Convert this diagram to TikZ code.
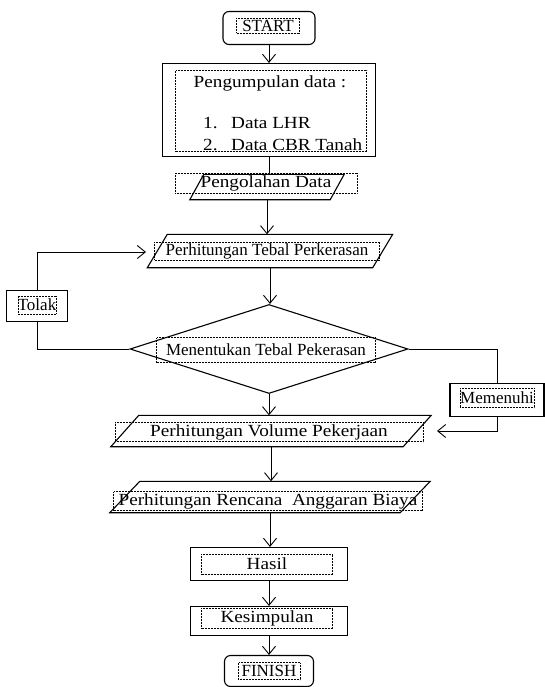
\documentclass[tikz,border=0pt]{standalone}
\usepackage{fontspec}
\setmainfont{Liberation Serif}
\newfontfamily\widefont[FakeStretch=1.13]{Liberation Serif}
\usepackage{tikz}
\usetikzlibrary{arrows.meta}
\usetikzlibrary{shapes.geometric}
\tikzset{>={Straight Barb[length=8pt,width=13pt]}}
\tikzstyle{box} = [draw, line width=1.1pt, inner sep=1pt]
\tikzstyle{term} = [box, rounded corners=6pt]
\tikzstyle{io} = [inner sep=1pt]
\tikzstyle{choice} = [box, diamond]
\tikzstyle{lbl} = [inner sep=0pt, font=\fontsize{17}{20}\selectfont]
\tikzstyle{wlbl} = [inner sep=0pt, font=\fontsize{17}{20}\widefont]
\tikzstyle{txt} = [lbl, draw, densely dotted, line width=0.5pt]
\tikzstyle{wtxt} = [txt, font=\fontsize{17}{20}\widefont]
\tikzstyle{line} = [line width=0.9pt]

\begin{document}
\begin{tikzpicture}[x=1pt,y=-1pt]
\useasboundingbox (0,0) rectangle (544,687);
%outer shapes
\node[term, minimum width=92, minimum height=33] (start) at (269,28) {};
\node[box, minimum width=213, minimum height=93] (data) at (269,110) {};
\node[io, minimum width=154, minimum height=25] (olah) at (267,187) {};
\node[io, minimum width=245, minimum height=33] (tebal) at (270,251) {};
\node[choice, minimum width=278, minimum height=89] (tentu) at (269,349) {};
\node[box, minimum width=61, minimum height=31] (tolak) at (37,306) {};
\node[box, minimum width=94, minimum height=33] (penuh) at (497,400) {};
\node[io, minimum width=320, minimum height=31] (volume) at (271,431) {};
\node[io, minimum width=320, minimum height=31] (rab) at (270,497) {};
\node[box, minimum width=157, minimum height=33] (hasil) at (269,564) {};
\node[box, minimum width=157, minimum height=29] (simpul) at (269,621) {};
\node[term, minimum width=89, minimum height=31] (finish) at (269,671) {};
%parallelograms
\foreach \n/\s in {olah/14, tebal/20, volume/28, rab/30}
{\draw[box] ([xshift=\s]\n.north west) -- (\n.north east)
    -- ([xshift=-\s]\n.south east) -- (\n.south west) -- cycle;}
%dotted text boxes
\node[txt, minimum width=63, minimum height=15] (starttxt) at (268,26) {START};
\node[txt, minimum width=191, minimum height=81] (datatxt) at (271,111) {};
\node[wlbl] (datahead) at (270,83) {Pengumpulan data :};
\foreach \i/\t in {1/Data LHR, 2/Data CBR Tanah}
{\node[wlbl, anchor=west] (num\i) at (203,{101+22*\i}) {\i.};
\node[wlbl, anchor=west] (item\i) at (231,{101+22*\i}) {\t};}
\node[wtxt, minimum width=182, minimum height=20] (olahtxt) at (266,183) {Pengolahan Data};
\node[txt, minimum width=225, minimum height=18] (tebaltxt) at (267,251) {Perhitungan Tebal Perkerasan};
\node[txt, minimum width=219, minimum height=25] (tentutxt) at (266,350) {Menentukan Tebal Pekerasan};
\node[txt, minimum width=38, minimum height=18] (tolaktxt) at (37,305) {Tolak};
\node[txt, minimum width=74, minimum height=19] (penuhtxt) at (497,398) {Memenuhi};
\node[wtxt, minimum width=308, minimum height=19] (volumetxt) at (269,432) {Perhitungan Volume Pekerjaan};
\node[wtxt, minimum width=309, minimum height=19] (rabtxt) at (268,501) {Perhitungan Rencana\ \ Anggaran Biaya};
\node[wtxt, minimum width=131, minimum height=20] (hasiltxt) at (267,564) {Hasil};
\node[wtxt, minimum width=131, minimum height=20] (simpultxt) at (267,618) {Kesimpulan};
\node[txt, minimum width=62, minimum height=17] (finishtxt) at (269,671) {FINISH};
%connectors
\coordinate (tin) at (146,252);
\coordinate (vin) at (437,431);
\draw[line] (data.south) -- (data.south |- olah.north);
\foreach \from/\to in {start/data, olah/tebal, tebal/tentu, tentu/volume,
    volume/rab, rab/hasil, hasil/simpul, simpul/finish}
{\draw[line,->] (\from.south) -- (\from.south |- \to.north);}
\draw[line] (tentu.west) -| (tolak.south);
\draw[line,->] (tolak.north) |- (tin);
\draw[line] (tentu.east) -| (penuh.north);
\draw[line,->] (penuh.south) |- (vin);
\end{tikzpicture}
\end{document}
